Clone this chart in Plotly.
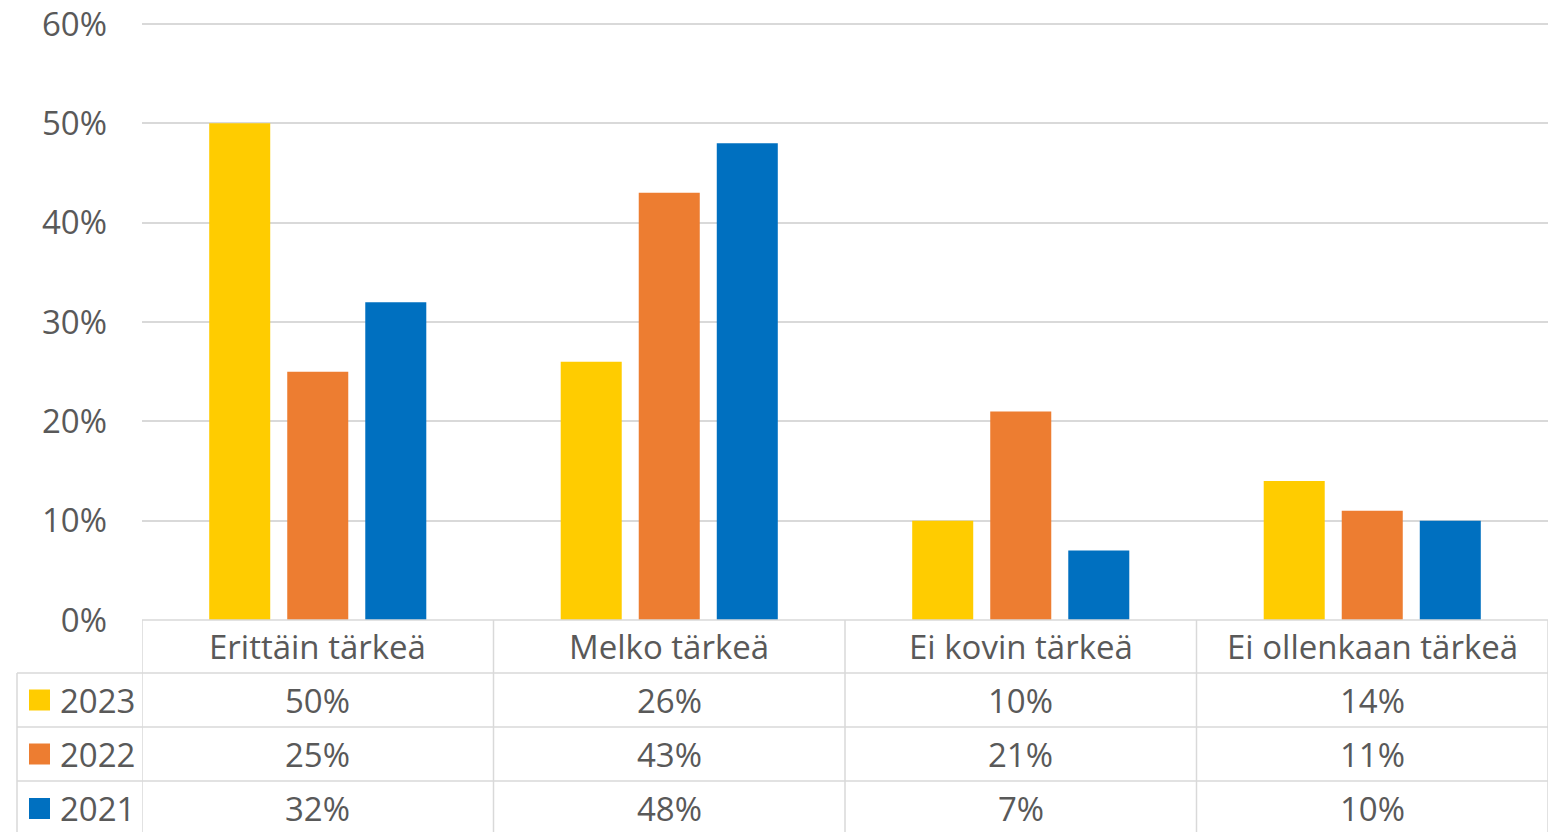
import plotly.graph_objects as go

categories = ["Erittäin tärkeä", "Melko tärkeä", "Ei kovin tärkeä", "Ei ollenkaan tärkeä"]
years = ["2023", "2022", "2021"]
values_2023 = [50, 26, 10, 14]
values_2022 = [25, 43, 21, 11]
values_2021 = [32, 48, 7, 10]
colors = ["#FFCC00", "#ED7D31", "#0070C0"]

series = [values_2023, values_2022, values_2021]

# page body has an 8px margin; design in screen pixels and subtract it
OFF = 8
W, H = 1556 - OFF, 832 - OFF
FONT = "Open Sans"
FS = 33
TXT = "#595959"
GRID = "#D9D9D9"


def px(p):
    return (p - OFF) / W


def py(p):
    return 1 - (p - OFF) / H


# y axis: 0% at screen y=620, 60% at y=24; extend a few px so the 60% gridline is kept
ppu = (620 - 24) / 0.6
EXTRA = 4
ytop = 0.6 + EXTRA / ppu

fig = go.Figure()
for yr, vals, c in zip(years, series, colors):
    fig.add_trace(go.Bar(x=list(range(len(categories))), y=[v / 100 for v in vals],
                         name=yr, marker=dict(color=c, line=dict(width=0)),
                         showlegend=False, hoverinfo="skip"))

fig.update_layout(
    template="none",
    width=W, height=H,
    autosize=False,
    margin=dict(l=0, r=0, t=0, b=0, pad=0, autoexpand=False),
    paper_bgcolor="white", plot_bgcolor="white",
    barmode="group", bargap=0.334, bargroupgap=0.218,
    font=dict(family=FONT, size=FS, color=TXT),
    xaxis=dict(domain=[px(142), px(1548)], range=[-0.5, 3.5], showticklabels=False,
               showgrid=False, zeroline=False, showline=False, ticks="",
               automargin=False, fixedrange=True),
    yaxis=dict(domain=[py(620), py(24 - EXTRA)], range=[0, ytop], tickvals=[0, 0.1, 0.2, 0.3, 0.4, 0.5, 0.6],
               tickformat=".0%", showgrid=True, gridcolor=GRID, gridwidth=1.5,
               zeroline=False, showline=False, ticks="", ticklabelstandoff=34,
               ticklabeloverflow="allow",
               automargin=False, fixedrange=True,
               tickfont=dict(family=FONT, size=FS, color=TXT)),
)

# table geometry (screen pixels)
row_edges = [620, 673, 727, 781, 836]
shapes = []
lw = 1.5
shapes.append(dict(type="line", xref="x", yref="paper", x0=-0.5, x1=3.5, y0=py(620), y1=py(620),
                   line=dict(color=GRID, width=lw)))
for ye in row_edges[1:4]:
    shapes.append(dict(type="line", xref="paper", yref="paper", x0=px(17), x1=px(1548),
                       y0=py(ye), y1=py(ye), line=dict(color=GRID, width=lw)))
for k in range(len(categories) + 1):
    shapes.append(dict(type="line", xref="x", yref="paper", x0=k - 0.5, x1=k - 0.5,
                       y0=py(620), y1=py(836), line=dict(color=GRID, width=lw)))
shapes.append(dict(type="line", xref="paper", yref="paper", x0=px(17), x1=px(17),
                   y0=py(673), y1=py(836), line=dict(color=GRID, width=lw)))

annotations = []
for i, cat in enumerate(categories):
    annotations.append(dict(x=i, xref="x", y=py(646.5), yref="paper", text=cat, showarrow=False,
                            font=dict(family=FONT, size=FS, color=TXT), xanchor="center", yanchor="middle"))
for r, (yr, vals, c) in enumerate(zip(years, series, colors)):
    yc = (row_edges[r + 1] + row_edges[r + 2]) / 2
    shapes.append(dict(type="rect", xref="paper", yref="paper", x0=px(29), x1=px(50),
                       y0=py(yc + 10.5), y1=py(yc - 10.5), fillcolor=c, line=dict(width=0)))
    annotations.append(dict(x=px(58), xref="paper", y=py(yc), yref="paper", text=yr, showarrow=False,
                            font=dict(family=FONT, size=FS, color=TXT), xanchor="left", yanchor="middle"))
    for i, v in enumerate(vals):
        annotations.append(dict(x=i, xref="x", y=py(yc), yref="paper", text=f"{v}%", showarrow=False,
                                font=dict(family=FONT, size=FS, color=TXT), xanchor="center", yanchor="middle"))

fig.update_layout(shapes=shapes, annotations=annotations)
fig.write_html("out.html")
